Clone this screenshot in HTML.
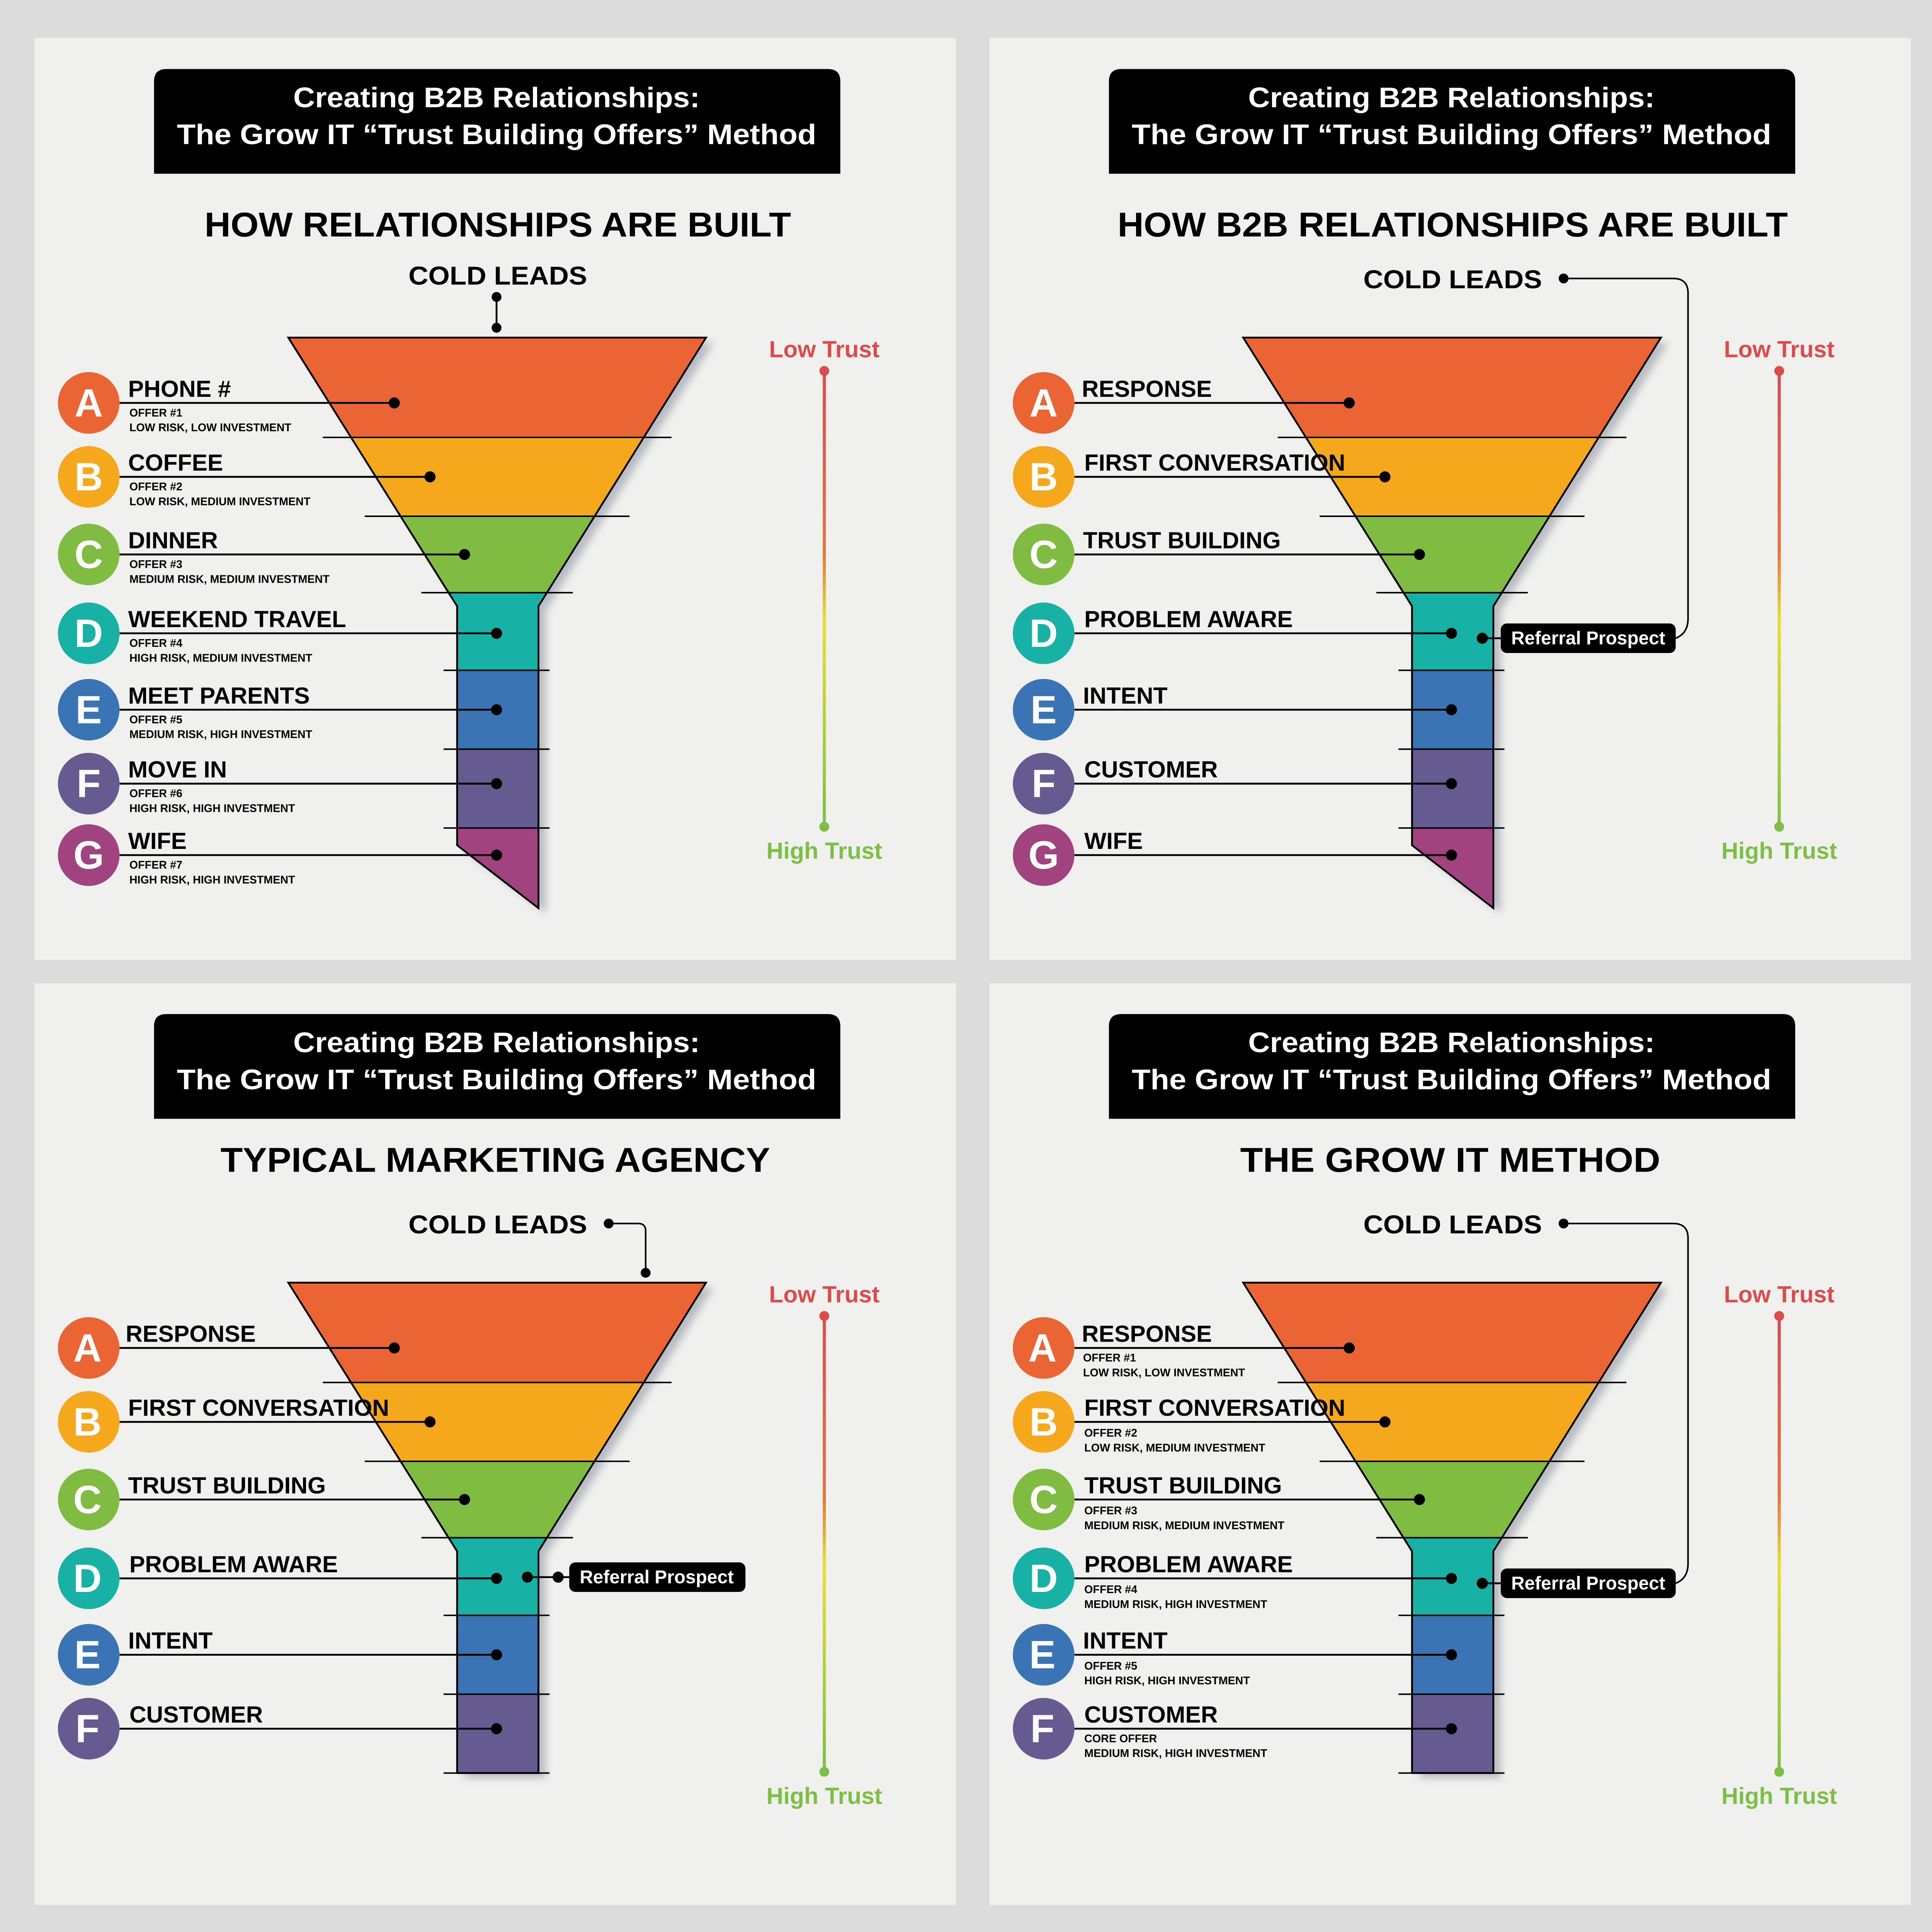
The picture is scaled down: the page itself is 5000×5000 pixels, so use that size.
<!DOCTYPE html>
<html><head><meta charset="utf-8"><style>
html,body{margin:0;padding:0;background:#dcdcdc;}
svg{display:block;}
text{font-family:"Liberation Sans",sans-serif;font-weight:bold;}
</style></head><body>
<svg width="5000" height="5000" viewBox="0 0 1568 1568" xmlns="http://www.w3.org/2000/svg">
<defs>
<linearGradient id="tg" gradientUnits="userSpaceOnUse" x1="0" y1="300" x2="0" y2="671">
<stop offset="0" stop-color="#dc4a4a"/><stop offset="0.4" stop-color="#e2763f"/><stop offset="0.55" stop-color="#e8e02a"/><stop offset="1" stop-color="#7dbf45"/>
</linearGradient>
<filter id="sh" x="-20%" y="-20%" width="140%" height="140%"><feGaussianBlur stdDeviation="3"/></filter>
<g id="trust">
<line x1="669" y1="300" x2="669" y2="671" stroke="url(#tg)" stroke-width="2.5"/>
<circle cx="669" cy="301" r="4" fill="#dc4a4a"/><circle cx="669" cy="671" r="4" fill="#7dbf45"/>
</g>
<g id="f7">
<polygon points="240,278 579,278 443,496 443,741 377,690 377,496" fill="#b8bcc2" filter="url(#sh)"/>
<polygon points="234,274 573,274 522.5,355 284.5,355" fill="#eb6433"/>
<polygon points="284.5,355 522.5,355 482.5,419 324.5,419" fill="#f5a81b"/>
<polygon points="324.5,419 482.5,419 444,481 363,481" fill="#80bc41"/>
<polygon points="363,481 444,481 437,492 437,544 371,544 371,492" fill="#17b1a5"/>
<rect x="371" y="544" width="66" height="64" fill="#3a74b5"/>
<rect x="371" y="608" width="66" height="64" fill="#655b91"/>
<polygon points="371,672 437,672 437,737 371,686" fill="#a0437e"/>
<polygon points="234,274 573,274 437,492 437,737 371,686 371,492" fill="none" stroke="#000" stroke-width="1.5"/>
<g stroke="#000" stroke-width="1.2">
<line x1="262" y1="355" x2="545" y2="355"/><line x1="296" y1="419" x2="511" y2="419"/><line x1="342" y1="481" x2="465" y2="481"/>
<line x1="360" y1="544" x2="446" y2="544"/><line x1="360" y1="608" x2="446" y2="608"/><line x1="360" y1="672" x2="446" y2="672"/>
</g>
</g>
<g id="f6">
<polygon points="240,278 579,278 443,496 443,676 377,676 377,496" fill="#b8bcc2" filter="url(#sh)"/>
<polygon points="234,274 573,274 522.5,355 284.5,355" fill="#eb6433"/>
<polygon points="284.5,355 522.5,355 482.5,419 324.5,419" fill="#f5a81b"/>
<polygon points="324.5,419 482.5,419 444,481 363,481" fill="#80bc41"/>
<polygon points="363,481 444,481 437,492 437,544 371,544 371,492" fill="#17b1a5"/>
<rect x="371" y="544" width="66" height="64" fill="#3a74b5"/>
<rect x="371" y="608" width="66" height="64" fill="#655b91"/>
<polygon points="234,274 573,274 437,492 437,672 371,672 371,492" fill="none" stroke="#000" stroke-width="1.5"/>
<g stroke="#000" stroke-width="1.2">
<line x1="262" y1="355" x2="545" y2="355"/><line x1="296" y1="419" x2="511" y2="419"/><line x1="342" y1="481" x2="465" y2="481"/>
<line x1="360" y1="544" x2="446" y2="544"/><line x1="360" y1="608" x2="446" y2="608"/><line x1="360" y1="672" x2="446" y2="672"/>
</g>
</g>
<g id="lines7" stroke="#000" stroke-width="1.5">
<line x1="97" y1="327" x2="320" y2="327"/><line x1="97" y1="387" x2="349" y2="387"/><line x1="97" y1="450" x2="377" y2="450"/>
<line x1="97" y1="514" x2="403" y2="514"/><line x1="97" y1="576" x2="403" y2="576"/><line x1="97" y1="636" x2="403" y2="636"/>
</g>
<g id="dots6">
<use href="#lines7"/>
<circle cx="320" cy="327" r="4.5"/><circle cx="349" cy="387" r="4.5"/><circle cx="377" cy="450" r="4.5"/>
<circle cx="403" cy="514" r="4.5"/><circle cx="403" cy="576" r="4.5"/><circle cx="403" cy="636" r="4.5"/>
<circle cx="72" cy="327" r="25" fill="#eb6433"/><circle cx="72" cy="387" r="25" fill="#f5a81b"/><circle cx="72" cy="450" r="25" fill="#80bc41"/>
<circle cx="72" cy="514" r="25" fill="#17b1a5"/><circle cx="72" cy="576" r="25" fill="#3a74b5"/><circle cx="72" cy="636" r="25" fill="#655b91"/>
</g>
</defs>

<rect x="28" y="31" width="748" height="748" fill="#f0f0ee"/>
<rect x="803" y="31" width="748" height="748" fill="#f0f0ee"/>
<rect x="28" y="798" width="748" height="748" fill="#f0f0ee"/>
<rect x="803" y="798" width="748" height="748" fill="#f0f0ee"/>

<g id="hdr">
<path d="M125,141 V66 Q125,56 135,56 H672 Q682,56 682,66 V141 Z" fill="#000"/>
</g>
<use href="#hdr" x="775"/><use href="#hdr" y="767"/><use href="#hdr" x="775" y="767"/>

<!-- PANEL TL -->
<g>
<text x="403" y="87" fill="#fff" font-size="23" text-anchor="middle" textLength="330" lengthAdjust="spacingAndGlyphs">Creating B2B Relationships:</text>
<text x="403" y="117" fill="#fff" font-size="23" text-anchor="middle" textLength="519" lengthAdjust="spacingAndGlyphs">The Grow IT “Trust Building Offers” Method</text>
<text x="404" y="192" font-size="28" text-anchor="middle" textLength="476" lengthAdjust="spacingAndGlyphs">HOW RELATIONSHIPS ARE BUILT</text>
<text x="404" y="231" font-size="21" text-anchor="middle" textLength="145" lengthAdjust="spacingAndGlyphs">COLD LEADS</text>
<line x1="403" y1="241" x2="403" y2="266" stroke="#000" stroke-width="1.5"/><circle cx="403" cy="241" r="4"/><circle cx="403" cy="266" r="4"/>
<use href="#f7"/>
<use href="#dots6"/>
<line x1="97" y1="694" x2="403" y2="694" stroke="#000" stroke-width="1.5"/><circle cx="403" cy="694" r="4.5"/>
<circle cx="72" cy="694" r="25" fill="#a0437e"/>
<g fill="#fff" font-size="32" text-anchor="middle">
<text x="72" y="338">A</text><text x="72" y="398">B</text><text x="72" y="461">C</text><text x="72" y="525">D</text><text x="72" y="587">E</text><text x="72" y="647">F</text><text x="72" y="705">G</text>
</g>
<g font-size="19">
<text x="104" y="322">PHONE #</text><text x="104" y="382">COFFEE</text><text x="104" y="445">DINNER</text><text x="104" y="509">WEEKEND TRAVEL</text><text x="104" y="571">MEET PARENTS</text><text x="104" y="631">MOVE IN</text><text x="104" y="689">WIFE</text>
</g>
<g font-size="9">
<text x="105" y="338">OFFER #1</text><text x="105" y="350">LOW RISK, LOW INVESTMENT</text>
<text x="105" y="398">OFFER #2</text><text x="105" y="410">LOW RISK, MEDIUM INVESTMENT</text>
<text x="105" y="461">OFFER #3</text><text x="105" y="473">MEDIUM RISK, MEDIUM INVESTMENT</text>
<text x="105" y="525">OFFER #4</text><text x="105" y="537">HIGH RISK, MEDIUM INVESTMENT</text>
<text x="105" y="587">OFFER #5</text><text x="105" y="599">MEDIUM RISK, HIGH INVESTMENT</text>
<text x="105" y="647">OFFER #6</text><text x="105" y="659">HIGH RISK, HIGH INVESTMENT</text>
<text x="105" y="705">OFFER #7</text><text x="105" y="717">HIGH RISK, HIGH INVESTMENT</text>
</g>
<use href="#trust"/>
<text x="669" y="290" fill="#dc4a4a" font-size="19" text-anchor="middle">Low Trust</text>
<text x="669" y="697" fill="#7dbf45" font-size="19" text-anchor="middle">High Trust</text>
</g>

<!-- PANEL TR -->
<g transform="translate(775,0)">
<text x="403" y="87" fill="#fff" font-size="23" text-anchor="middle" textLength="330" lengthAdjust="spacingAndGlyphs">Creating B2B Relationships:</text>
<text x="403" y="117" fill="#fff" font-size="23" text-anchor="middle" textLength="519" lengthAdjust="spacingAndGlyphs">The Grow IT “Trust Building Offers” Method</text>
<text x="404" y="192" font-size="28" text-anchor="middle" textLength="544" lengthAdjust="spacingAndGlyphs">HOW B2B RELATIONSHIPS ARE BUILT</text>
<text x="404" y="234" font-size="21" text-anchor="middle" textLength="145" lengthAdjust="spacingAndGlyphs">COLD LEADS</text>
<circle cx="494" cy="226" r="4"/>
<path d="M494,226 H583 Q595,226 595,238 V502 Q595,514 585,518" fill="none" stroke="#000" stroke-width="1.3"/>
<use href="#f7"/>
<use href="#dots6"/>
<line x1="97" y1="694" x2="403" y2="694" stroke="#000" stroke-width="1.5"/><circle cx="403" cy="694" r="4.5"/>
<circle cx="72" cy="694" r="25" fill="#a0437e"/>
<line x1="428" y1="518" x2="445" y2="518" stroke="#000" stroke-width="1.5"/><circle cx="428" cy="518" r="4.5"/>
<rect x="443" y="506" width="142" height="24" rx="5" fill="#000"/>
<text x="514" y="523" fill="#fff" font-size="15" text-anchor="middle">Referral Prospect</text>
<g fill="#fff" font-size="32" text-anchor="middle">
<text x="72" y="338">A</text><text x="72" y="398">B</text><text x="72" y="461">C</text><text x="72" y="525">D</text><text x="72" y="587">E</text><text x="72" y="647">F</text><text x="72" y="705">G</text>
</g>
<g font-size="19">
<text x="103" y="322">RESPONSE</text><text x="105" y="382">FIRST CONVERSATION</text><text x="104" y="445">TRUST BUILDING</text><text x="105" y="509">PROBLEM AWARE</text><text x="104" y="571">INTENT</text><text x="105" y="631">CUSTOMER</text><text x="105" y="689">WIFE</text>
</g>
<use href="#trust"/>
<text x="669" y="290" fill="#dc4a4a" font-size="19" text-anchor="middle">Low Trust</text>
<text x="669" y="697" fill="#7dbf45" font-size="19" text-anchor="middle">High Trust</text>
</g>

<!-- PANEL BL -->
<g transform="translate(0,767)">
<text x="403" y="87" fill="#fff" font-size="23" text-anchor="middle" textLength="330" lengthAdjust="spacingAndGlyphs">Creating B2B Relationships:</text>
<text x="403" y="117" fill="#fff" font-size="23" text-anchor="middle" textLength="519" lengthAdjust="spacingAndGlyphs">The Grow IT “Trust Building Offers” Method</text>
<text x="402" y="184" font-size="28" text-anchor="middle" textLength="446" lengthAdjust="spacingAndGlyphs">TYPICAL MARKETING AGENCY</text>
<text x="404" y="234" font-size="21" text-anchor="middle" textLength="145" lengthAdjust="spacingAndGlyphs">COLD LEADS</text>
<circle cx="494" cy="226" r="4"/>
<path d="M494,226 H518 Q524,226 524,232 V266" fill="none" stroke="#000" stroke-width="1.3"/><circle cx="524" cy="266" r="4"/>
<use href="#f6"/>
<use href="#dots6"/>
<line x1="428" y1="513" x2="462" y2="513" stroke="#000" stroke-width="1.5"/><circle cx="428" cy="513" r="4.5"/><circle cx="453" cy="513" r="4.5"/>
<rect x="462" y="501" width="143" height="24" rx="5" fill="#000"/>
<text x="533" y="518" fill="#fff" font-size="15" text-anchor="middle">Referral Prospect</text>
<g fill="#fff" font-size="32" text-anchor="middle">
<text x="71" y="338">A</text><text x="71" y="398">B</text><text x="71" y="461">C</text><text x="71" y="525">D</text><text x="71" y="587">E</text><text x="71" y="647">F</text>
</g>
<g font-size="19">
<text x="102" y="322">RESPONSE</text><text x="104" y="382">FIRST CONVERSATION</text><text x="104" y="445">TRUST BUILDING</text><text x="105" y="509">PROBLEM AWARE</text><text x="104" y="571">INTENT</text><text x="105" y="631">CUSTOMER</text>
</g>
<use href="#trust"/>
<text x="669" y="290" fill="#dc4a4a" font-size="19" text-anchor="middle">Low Trust</text>
<text x="669" y="697" fill="#7dbf45" font-size="19" text-anchor="middle">High Trust</text>
</g>

<!-- PANEL BR -->
<g transform="translate(775,767)">
<text x="403" y="87" fill="#fff" font-size="23" text-anchor="middle" textLength="330" lengthAdjust="spacingAndGlyphs">Creating B2B Relationships:</text>
<text x="403" y="117" fill="#fff" font-size="23" text-anchor="middle" textLength="519" lengthAdjust="spacingAndGlyphs">The Grow IT “Trust Building Offers” Method</text>
<text x="402" y="184" font-size="28" text-anchor="middle" textLength="341" lengthAdjust="spacingAndGlyphs">THE GROW IT METHOD</text>
<text x="404" y="234" font-size="21" text-anchor="middle" textLength="145" lengthAdjust="spacingAndGlyphs">COLD LEADS</text>
<circle cx="494" cy="226" r="4"/>
<path d="M494,226 H583 Q595,226 595,238 V502 Q595,514 585,518" fill="none" stroke="#000" stroke-width="1.3"/>
<use href="#f6"/>
<use href="#dots6"/>
<line x1="428" y1="518" x2="445" y2="518" stroke="#000" stroke-width="1.5"/><circle cx="428" cy="518" r="4.5"/>
<rect x="443" y="506" width="142" height="24" rx="5" fill="#000"/>
<text x="514" y="523" fill="#fff" font-size="15" text-anchor="middle">Referral Prospect</text>
<g fill="#fff" font-size="32" text-anchor="middle">
<text x="71" y="338">A</text><text x="72" y="398">B</text><text x="72" y="461">C</text><text x="72" y="525">D</text><text x="71" y="587">E</text><text x="71" y="647">F</text>
</g>
<g font-size="19">
<text x="103" y="322">RESPONSE</text><text x="105" y="382">FIRST CONVERSATION</text><text x="105" y="445">TRUST BUILDING</text><text x="105" y="509">PROBLEM AWARE</text><text x="104" y="571">INTENT</text><text x="105" y="631">CUSTOMER</text>
</g>
<g font-size="9">
<text x="104" y="338">OFFER #1</text><text x="104" y="350">LOW RISK, LOW INVESTMENT</text>
<text x="105" y="399">OFFER #2</text><text x="105" y="411">LOW RISK, MEDIUM INVESTMENT</text>
<text x="105" y="462">OFFER #3</text><text x="105" y="474">MEDIUM RISK, MEDIUM INVESTMENT</text>
<text x="105" y="526">OFFER #4</text><text x="105" y="538">MEDIUM RISK, HIGH INVESTMENT</text>
<text x="105" y="588">OFFER #5</text><text x="105" y="600">HIGH RISK, HIGH INVESTMENT</text>
<text x="105" y="647">CORE OFFER</text><text x="105" y="659">MEDIUM RISK, HIGH INVESTMENT</text>
</g>
<use href="#trust"/>
<text x="669" y="290" fill="#dc4a4a" font-size="19" text-anchor="middle">Low Trust</text>
<text x="669" y="697" fill="#7dbf45" font-size="19" text-anchor="middle">High Trust</text>
</g>
</svg>
</body></html>
